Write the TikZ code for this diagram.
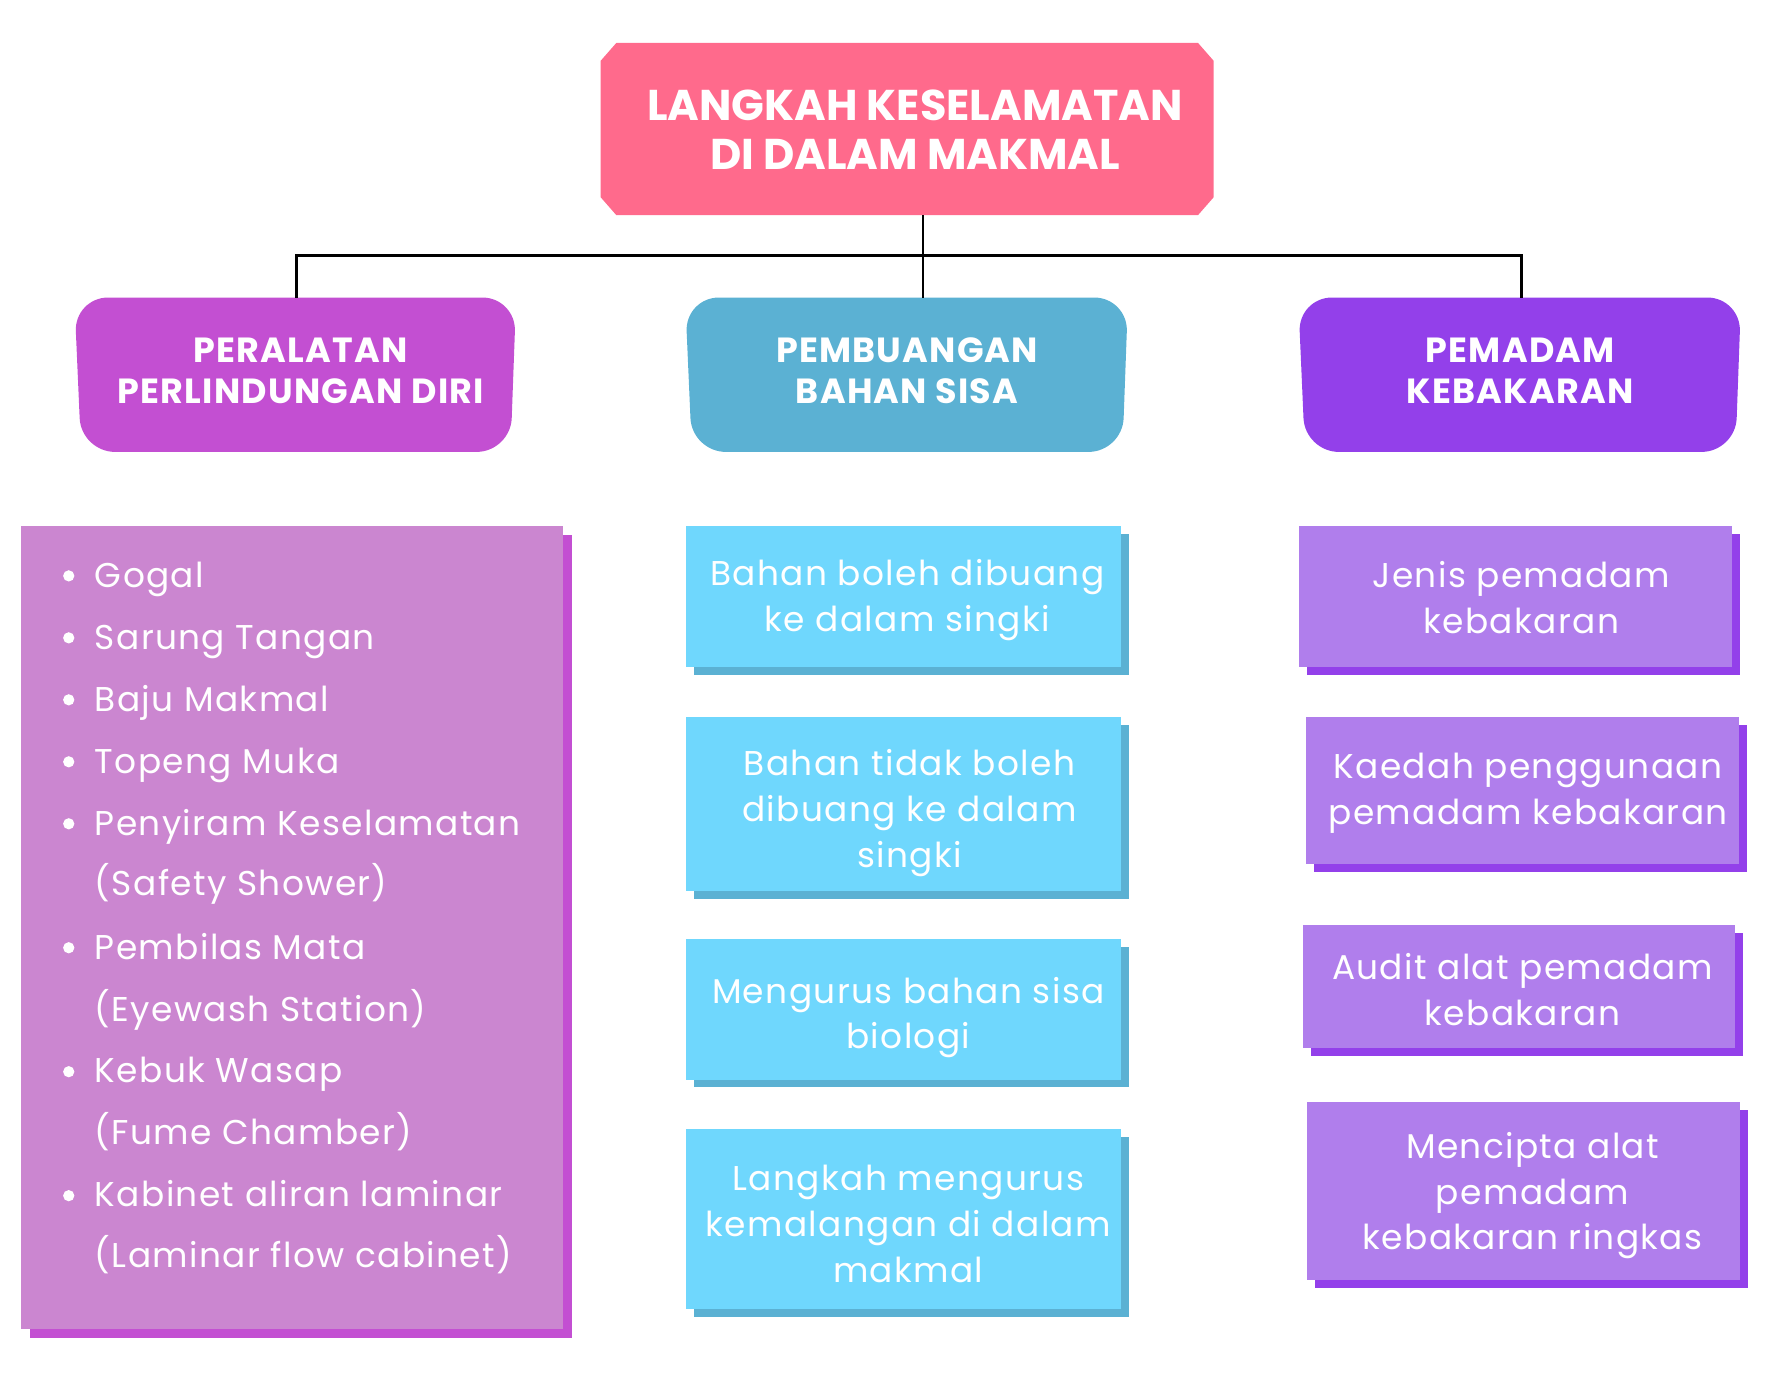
\documentclass[tikz,border=0pt]{standalone}
\usepackage{fontspec}
\setmainfont{Poppins}
\usetikzlibrary{shadows}
\definecolor{titlepink}{HTML}{FF6A8C}
\definecolor{magA}{HTML}{C34FD2}
\definecolor{magB}{HTML}{CB86D0}
\definecolor{bluA}{HTML}{5BB1D3}
\definecolor{bluB}{HTML}{6FD7FD}
\definecolor{vioA}{HTML}{9340EA}
\definecolor{vioB}{HTML}{B07EEC}
\begin{document}
\begin{tikzpicture}[x=1pt,y=-1pt,
  titletext/.style={text=white, align=center, inner sep=0pt, font=\bfseries\fontsize{38.2}{44}\selectfont},
  hdrtext/.style={text=white, align=center, inner sep=0pt, font=\bfseries\fontsize{31}{37}\selectfont\addfontfeatures{LetterSpace=3.5}},
  itemtext/.style={text=white, align=center, inner sep=0pt, font=\fontsize{30.5}{40.5}\selectfont\addfontfeatures{LetterSpace=4}},
  bluebox/.style={fill=bluB, minimum width=386pt, inner sep=0pt, drop shadow={shadow xshift=7pt, shadow yshift=-7pt, fill=bluA, opacity=1}},
  violetbox/.style={fill=vioB, minimum width=384pt, inner sep=0pt, drop shadow={shadow xshift=7pt, shadow yshift=-7pt, fill=vioA, opacity=1}},
  listtext/.style={text=white, inner sep=0pt, anchor=base west, font=\fontsize{30.5}{35}\selectfont\addfontfeatures{LetterSpace=4}},
  conn/.style={draw=black, line width=2.4pt}
]
\useasboundingbox (0,0) rectangle (1568,1219);

% title
\fill[titlepink] (547,38) -- (1063,38) -- (1077,54) -- (1077,175) -- (1063,191)
  -- (547,191) -- (533,175) -- (533,54) -- cycle;
\node[titletext] (title) at (812,115) {LANGKAH KESELAMATAN\\DI DALAM MAKMAL};

% header shapes
\fill[magA, rounded corners=30pt] (66,264) -- (458,264) -- (453,401) -- (72,401) -- cycle;
\fill[bluA, rounded corners=30pt] (608,264) -- (1001,264) -- (996,401) -- (614,401) -- cycle;
\fill[vioA, rounded corners=30pt] (1152,264) -- (1545,264) -- (1540,401) -- (1158,401) -- cycle;
\node[hdrtext] (h1) at (267,329) {PERALATAN\\PERLINDUNGAN DIRI};
\node[hdrtext] (h2) at (805,329) {PEMBUANGAN\\BAHAN SISA};
\node[hdrtext] (h3) at (1349,329) {PEMADAM\\KEBAKARAN};

% connectors
\coordinate (tb) at (819,191);
\coordinate (bus) at (819,227);
\coordinate (h1top) at (263,264);
\coordinate (h2top) at (819,264);
\coordinate (h3top) at (1350,264);
\draw[conn] (tb) -- (h2top);
\draw[conn] (h1top) |- (bus) -| (h3top);

% left list box
\node[fill=magB, minimum width=481pt, minimum height=712pt, inner sep=0pt,
      drop shadow={shadow xshift=8pt, shadow yshift=-8pt, fill=magA, opacity=1}] (ppe) at (259.5,823) {};
\foreach \yy/\txt/\bul [count=\i] in {
  521/Gogal/1, 576/Sarung Tangan/1, 631/Baju Makmal/1, 686/Topeng Muka/1,
  741/Penyiram Keselamatan/1, 795/(Safety Shower)/0, 851/Pembilas Mata/1,
  906/(Eyewash Station)/0, 961/Kebuk Wasap/1, 1016/(Fume Chamber)/0,
  1071/Kabinet aliran laminar/1, 1125/(Laminar flow cabinet)/0} {
  \node[listtext] (li\i) at (84,\yy) {\txt};
  \ifnum\bul=1 \fill[white] (61,\yy-10) circle (5pt); \fi
}

% middle column
\node[bluebox, minimum height=125pt] (b1) at (802,529.5) {};
\node[bluebox, minimum height=155pt] (b2) at (802,713.5) {};
\node[bluebox, minimum height=125pt] (b3) at (802,895.5) {};
\node[bluebox, minimum height=160pt] (b4) at (802,1082) {};
\node[itemtext] (b1t) at (805,532.5) {Bahan boleh dibuang\\ke dalam singki};
\node[itemtext] (b2t) at (807,721.5) {Bahan tidak boleh\\dibuang ke dalam\\singki};
\node[itemtext] (b3t) at (806,903) {Mengurus bahan sisa\\biologi};
\node[itemtext] (b4t) at (806,1086) {Langkah mengurus\\kemalangan di dalam\\makmal};

% right column
\node[violetbox, minimum height=125pt] (r1) at (1345,529.5) {};
\node[violetbox, minimum height=131pt] (r2) at (1351,701.5) {};
\node[violetbox, minimum height=109pt] (r3) at (1348,875.5) {};
\node[violetbox, minimum height=158pt] (r4) at (1352,1057) {};
\node[itemtext] (r1t) at (1350,530) {Jenis pemadam\\kebakaran};
\node[itemtext] (r2t) at (1356,704) {Kaedah penggunaan\\pemadam kebakaran};
\node[itemtext] (r3t) at (1351,878) {Audit alat pemadam\\kebakaran};
\node[itemtext] (r4t) at (1360,1061) {Mencipta alat\\pemadam\\kebakaran ringkas};
\end{tikzpicture}
\end{document}
